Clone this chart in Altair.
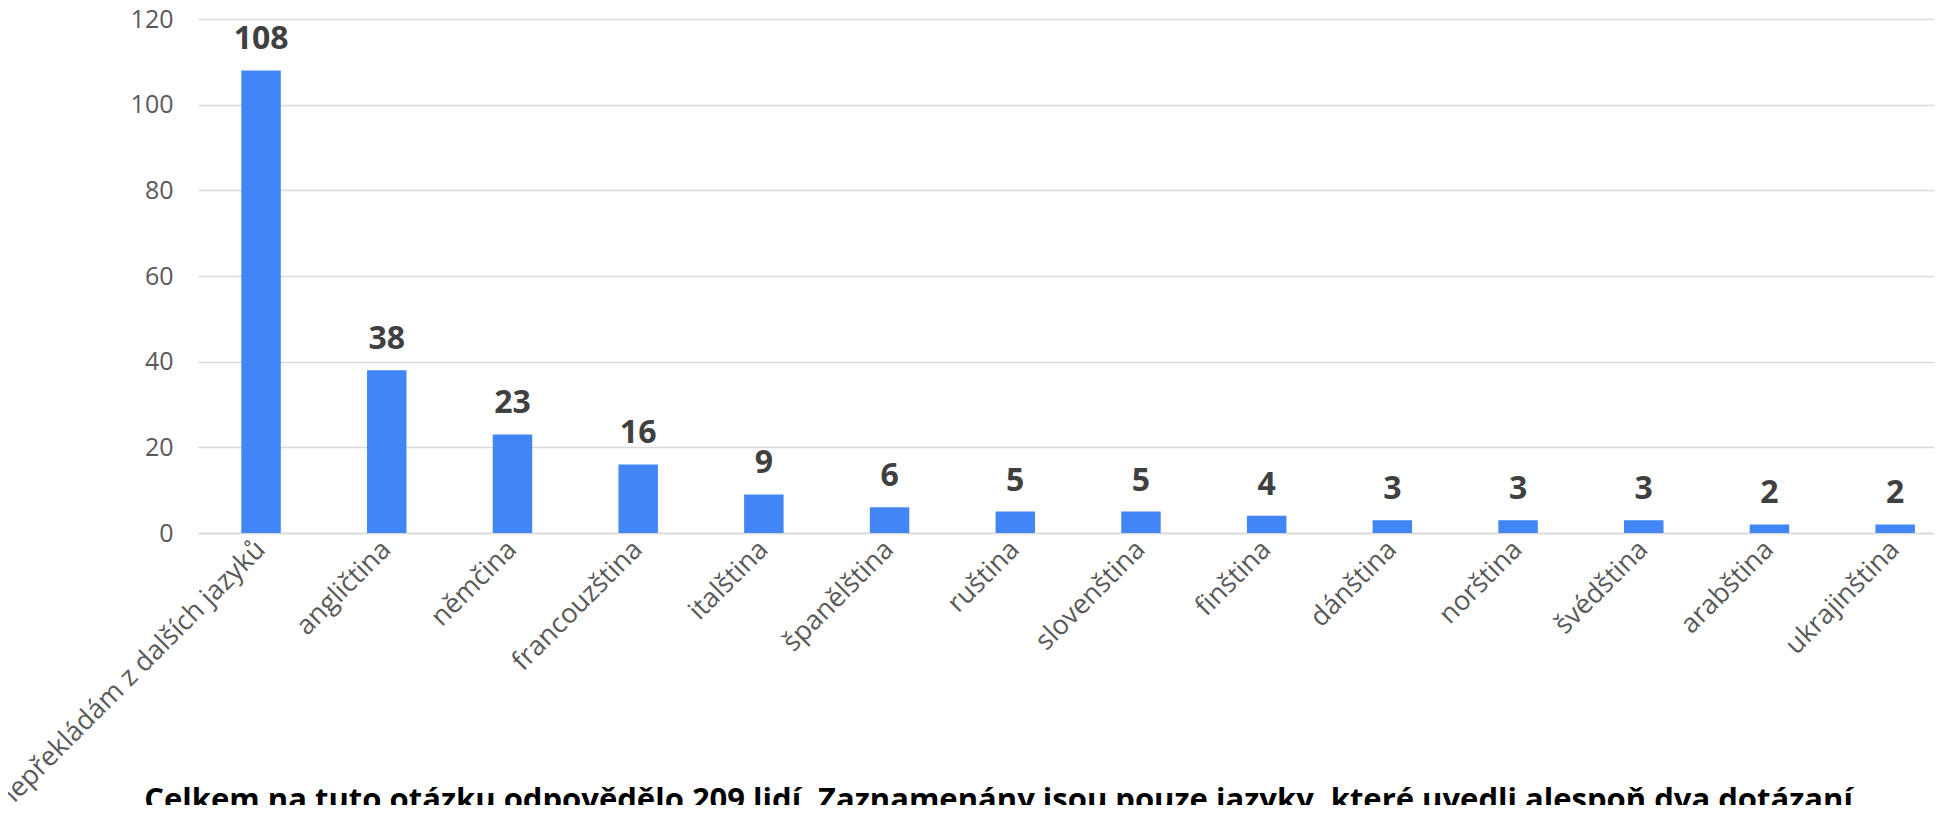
import altair as alt
import pandas as pd

languages = [
    "nepřekládám z dalších jazyků", "angličtina", "němčina", "francouzština",
    "italština", "španělština", "ruština", "slovenština", "finština",
    "dánština", "norština", "švédština", "arabština", "ukrajinština",
]
counts = [108, 38, 23, 16, 9, 6, 5, 5, 4, 3, 3, 3, 2, 2]
y_ticks = [0, 20, 40, 60, 80, 100, 120]
caption = ("Celkem na tuto otázku odpovědělo 209 lidí. Zaznamenány jsou pouze jazyky, "
           "které uvedli alespoň dva dotázaní.")

df = pd.DataFrame({"jazyk": languages, "pocet": counts})

FONT = "Open Sans"

x_enc = alt.X(
    "jazyk:N",
    sort=languages,
    title=None,
    scale=alt.Scale(paddingInner=0.686, paddingOuter=0.2484, align=0.694),
    axis=alt.Axis(
        labelAngle=-45, labelAlign="right", labelBaseline="middle",
        labelFont=FONT, labelFontSize=27, labelColor="#595959",
        labelPadding=12, ticks=False, tickSize=0,
        domain=True, domainColor="#D9D9D9", domainWidth=1.5,
        labelOverlap=False, labelLimit=0,
    ),
)
y_enc = alt.Y(
    "pocet:Q",
    title=None,
    scale=alt.Scale(domain=[0, 120], nice=False),
    axis=alt.Axis(
        values=y_ticks, labelFont=FONT, labelFontSize=25, labelColor="#595959",
        labelPadding=25, ticks=False, tickSize=0, domain=False,
        grid=True, gridColor="#D9D9D9", gridWidth=1.5,
    ),
)

base = alt.Chart(df)
bars = base.mark_bar(color="#4285F4").encode(x=x_enc, y=y_enc)
labels = base.mark_text(
    font=FONT, fontSize=32, fontWeight="bold", color="#404040",
    baseline="alphabetic", dy=-21,
).encode(x=alt.X("jazyk:N", sort=languages), y="pocet:Q", text="pocet:Q")

chart = (bars + labels).properties(
    width=1736,
    height=514,
    autosize=alt.AutoSizeParams(type="none"),
    padding={"left": 190, "top": 11, "right": 0, "bottom": 272},
    title=alt.TitleParams(
        caption, orient="bottom", anchor="middle", frame="group",
        font=FONT, fontSize=31, fontWeight="bold", color="#000000",
        dx=-63, offset=-28,
    ),
).configure_view(stroke=None)

chart.save("out.html", embed_options={"renderer": "svg", "actions": False})
